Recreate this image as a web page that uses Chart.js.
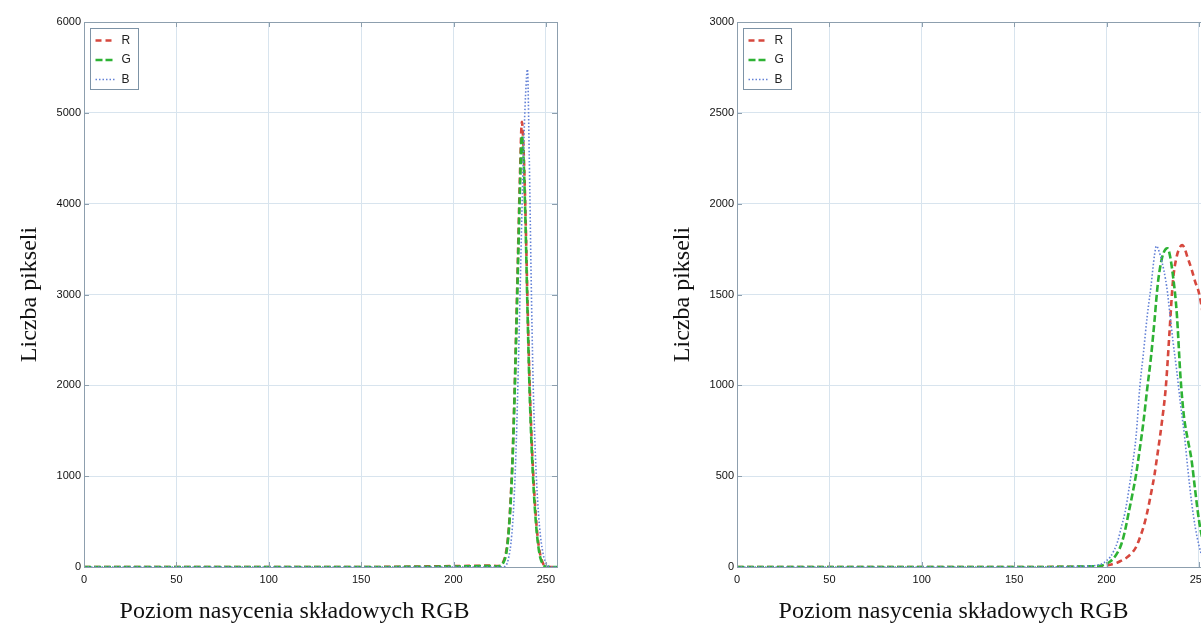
<!DOCTYPE html>
<html>
<head>
<meta charset="utf-8">
<script src="https://cdn.jsdelivr.net/npm/chart.js@4.4.1/dist/chart.umd.min.js"></script>
<style>
  html, body { margin: 0; padding: 0; background: #fff; overflow: hidden; width: 1201px; height: 630px; }
  .box { position: absolute; top: 0; width: 580px; height: 630px; }
  #left { left: 0; }
  #right { left: 653px; }
</style>
</head>
<body>
<div class="box" id="left"><canvas id="histLeft"></canvas></div>
<div class="box" id="right"><canvas id="histRight"></canvas></div>
<script>
// Histogram data (saturation level -> pixel count)
const levelsLeft = [0, 150, 200, 220, 224, 225, 226, 227, 228, 229, 230, 231, 232, 233, 234, 235, 236, 237, 238, 239, 240, 241, 242, 243, 244, 245, 246, 247, 248, 249, 250, 251, 252, 253, 256];
const redLeft   = [0, 0, 10, 15, 10, 15, 30, 60, 120, 240, 450, 780, 1250, 1900, 2700, 3550, 4350, 4900, 4550, 3850, 2950, 2150, 1550, 1080, 720, 440, 250, 130, 60, 20, 5, 0, 0, 0, 0];
const greenLeft = [0, 0, 5, 10, 5, 10, 20, 50, 100, 210, 420, 740, 1200, 1850, 2600, 3400, 4200, 4750, 4450, 3750, 2850, 2050, 1450, 1000, 650, 390, 210, 100, 45, 15, 3, 0, 0, 0, 0];
const blueLeft  = [0, 0, 0, 0, 0, 0, 0, 0, 10, 40, 120, 250, 480, 850, 1400, 2150, 3000, 3900, 4650, 5200, 5480, 4500, 3200, 2100, 1400, 920, 580, 350, 200, 100, 45, 15, 5, 0, 0];

const levelsRight = [0, 150, 190, 195, 198, 200, 202, 204, 206, 208, 210, 212, 214, 216, 218, 220, 222, 224, 226, 227, 228, 230, 232, 233, 234, 236, 238, 240, 241, 242, 244, 246, 248, 250, 252, 254, 256];
const redRight   = [0, 0, 2, 3, 5, 8, 12, 18, 25, 35, 45, 60, 80, 110, 160, 220, 300, 400, 510, 580, 650, 800, 980, 1120, 1280, 1580, 1710, 1765, 1772, 1760, 1700, 1640, 1570, 1510, 1400, 1250, 1100];
const greenRight = [0, 0, 3, 5, 10, 18, 30, 50, 80, 125, 200, 300, 400, 510, 650, 800, 980, 1150, 1360, 1480, 1580, 1700, 1750, 1754, 1730, 1600, 1400, 1050, 920, 820, 700, 590, 420, 260, 150, 80, 30];
const blueRight  = [0, 0, 5, 10, 20, 35, 55, 90, 140, 220, 300, 420, 560, 720, 990, 1180, 1380, 1540, 1720, 1767, 1750, 1680, 1580, 1510, 1420, 1240, 1080, 900, 820, 740, 540, 360, 220, 120, 50, 15, 5];

const seriesNames = ['R', 'G', 'B'];
const xTitle = 'Poziom nasycenia składowych RGB';
const yTitle = 'Liczba pikseli';

const styles = {
  R: { color: 'rgb(214,72,62)', width: 2.6, dash: [6, 4], order: 2 },
  G: { color: 'rgb(46,178,52)', width: 2.6, dash: [7, 3], order: 1 },
  B: { color: 'rgb(98,128,214)', width: 1.6, dash: [1.5, 2], order: 0 },
};

const axisColor = '#8d9fae';
const gridColor = '#d8e4ee';
const tickFont = { family: 'Liberation Sans, Arial, sans-serif', size: 11 };
const serif = 'Liberation Serif, Times New Roman, serif';

// MATLAB-like frame: box, inward ticks, legend and bottom title
const matlabLook = {
  id: 'matlabLook',
  afterDatasetsDraw(chart, args, opts) {
    const { ctx, chartArea: a, scales } = chart;
    ctx.save();
    // box
    ctx.strokeStyle = axisColor;
    ctx.lineWidth = 1;
    ctx.strokeRect(a.left + 0.5, a.top + 0.5, a.right - a.left, a.bottom - a.top);
    // inward ticks
    ctx.beginPath();
    scales.x.ticks.forEach(t => {
      const px = Math.round(scales.x.getPixelForValue(t.value)) + 0.5;
      ctx.moveTo(px, a.bottom); ctx.lineTo(px, a.bottom - 5);
      ctx.moveTo(px, a.top); ctx.lineTo(px, a.top + 5);
    });
    scales.y.ticks.forEach(t => {
      const py = Math.round(scales.y.getPixelForValue(t.value)) + 0.5;
      ctx.moveTo(a.left, py); ctx.lineTo(a.left + 5, py);
      ctx.moveTo(a.right, py); ctx.lineTo(a.right - 5, py);
    });
    ctx.stroke();

    // legend
    const bx = a.left + 6.5, by = a.top + 6.5, bw = 48, bh = 61;
    ctx.fillStyle = '#fff';
    ctx.fillRect(bx, by, bw, bh);
    ctx.strokeStyle = '#7d93a6';
    ctx.strokeRect(bx, by, bw, bh);
    chart.data.datasets.forEach((ds, i) => {
      const st = styles[ds.label];
      const y = by + 12 + i * 19.5;
      ctx.strokeStyle = st.color;
      ctx.lineWidth = st.width;
      ctx.setLineDash(st.dash);
      ctx.beginPath();
      ctx.moveTo(bx + 5, y); ctx.lineTo(bx + 24, y);
      ctx.stroke();
      ctx.setLineDash([]);
      ctx.fillStyle = '#222';
      ctx.font = '12px Liberation Sans, Arial, sans-serif';
      ctx.textBaseline = 'middle';
      ctx.textAlign = 'left';
      ctx.fillText(ds.label, bx + 31, y);
    });

    // bottom title
    ctx.fillStyle = '#111';
    ctx.font = '24px ' + serif;
    ctx.textAlign = 'center';
    ctx.textBaseline = 'middle';
    ctx.fillText(xTitle, (a.left + a.right) / 2 + opts.dx, 612);
    ctx.restore();
  }
};

function makeHist(canvasId, levels, r, g, b, yMax, yStep, dx) {
  const values = [r, g, b];
  const datasets = seriesNames.map((name, i) => ({
    label: name,
    data: levels.map((x, k) => ({ x: x, y: values[i][k] })),
    borderColor: styles[name].color,
    borderWidth: styles[name].width,
    borderDash: styles[name].dash,
    order: styles[name].order,
    pointRadius: 0,
    fill: false,
    cubicInterpolationMode: 'monotone',
  }));

  return new Chart(document.getElementById(canvasId), {
    type: 'line',
    data: { datasets },
    options: {
      responsive: true,
      maintainAspectRatio: false,
      animation: false,
      layout: { padding: { top: 22, right: 23, left: 0, bottom: 0 } },
      plugins: {
        legend: { display: false },
        tooltip: { enabled: false },
        matlabLook: { dx: dx },
      },
      scales: {
        x: {
          type: 'linear',
          min: 0,
          max: 256,
          afterFit: s => { s.height = 63; },
          ticks: { stepSize: 50, includeBounds: false, padding: 6, color: '#111', font: tickFont, maxRotation: 0, callback: v => String(v) },
          grid: { color: gridColor, drawTicks: false },
          border: { display: true, color: axisColor },
        },
        y: {
          min: 0,
          max: yMax,
          afterFit: s => { s.width = 84; },
          ticks: { stepSize: yStep, padding: 3, color: '#111', font: tickFont, callback: v => String(v) },
          grid: { color: gridColor, drawTicks: false },
          border: { display: true, color: axisColor },
          title: {
            display: true,
            text: yTitle,
            color: '#111',
            font: { family: serif, size: 24 },
            padding: { top: 15, bottom: 0 },
          },
        },
      },
    },
    plugins: [matlabLook],
  });
}

makeHist('histLeft', levelsLeft, redLeft, greenLeft, blueLeft, 6000, 1000, -26);
makeHist('histRight', levelsRight, redRight, greenRight, blueRight, 3000, 500, -20);
</script>
</body>
</html>
